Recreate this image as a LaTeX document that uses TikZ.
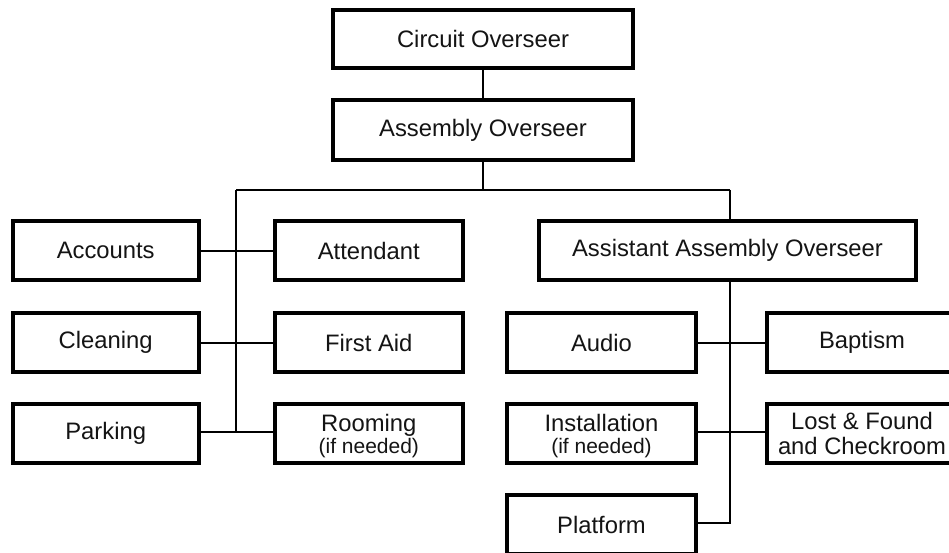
\documentclass[tikz,border=0pt]{standalone}
\usepackage{fontspec}
\setmainfont{Liberation Sans}
\begin{document}
\begin{tikzpicture}[x=1pt,y=-1pt,
  box/.style={draw=black, line width=4pt, rectangle, inner sep=0pt, align=center,
    font=\fontsize{23.8}{26}\selectfont, text=black!92},
  twoline/.style={text depth=0pt},
  link/.style={draw=black, line width=2pt}]
\useasboundingbox (0,0) rectangle (949,553);
\clip (0,0) rectangle (949,553);
\fill[white] (0,0) rectangle (949,553);
% top
\node[box, minimum width=300pt, minimum height=58pt] (co) at (483,39) {Circuit Overseer};
\node[box, minimum width=300pt, minimum height=60pt] (ao) at (483,130.5) {Assembly Overseer};
% left group
\node[box, minimum width=186pt, minimum height=59pt] (acc) at (105.7,250.5) {Accounts};
\node[box, minimum width=188pt, minimum height=59pt] (att) at (368.8,250.5) {Attendant};
\node[box, minimum width=186pt, minimum height=59pt] (cle) at (105.7,342.5) {Cleaning};
\node[box, minimum width=188pt, minimum height=59pt] (fa) at (368.8,342.5) {First Aid};
\node[box, minimum width=186pt, minimum height=59pt] (par) at (105.7,433.5) {Parking};
\node[box, twoline, minimum width=188pt, minimum height=59pt] (roo) at (368.8,433.5) {Rooming\\[-4pt]{\fontsize{21}{23}\selectfont (if needed)}};
% right group
\node[box, minimum width=377pt, minimum height=59pt] (aao) at (727.5,250.5) {Assistant Assembly Overseer};
\node[box, minimum width=189pt, minimum height=59pt] (aud) at (601.5,342.5) {Audio};
\node[box, minimum width=190pt, minimum height=59pt] (bap) at (862,342.5) {Baptism};
\node[box, twoline, minimum width=189pt, minimum height=59pt] (ins) at (601.5,433.5) {Installation\\[-4pt]{\fontsize{21}{23}\selectfont (if needed)}};
\node[box, minimum width=190pt, minimum height=59pt] (lf) at (862,433.5) {Lost \& Found\\[-1pt]and Checkroom};
\node[box, minimum width=189pt, minimum height=59pt] (pla) at (601.5,524.5) {Platform};
% connectors
\coordinate (bus) at (483,190);
\coordinate (busL) at (236,190);
\coordinate (busR) at (730,190);
\coordinate (endL) at (236,432);
\coordinate (endR) at (730,523);
\draw[link] (co) -- (ao);
\draw[link] (ao) -- (bus);
\draw[link] (busL) -- (busR);
\draw[link] (busL) -- (endL);
\draw[link] (acc) -- (att);
\draw[link] (cle) -- (fa);
\draw[link] (par.east |- endL) -- (roo.west |- endL);
\draw[link] (busR) -- (busR |- aao.north);
\draw[link] (busR |- aao.south) -- (endR) -- (pla.east |- endR);
\draw[link] (aud) -- (bap);
\draw[link] (ins.east |- endL) -- (lf.west |- endL);
\end{tikzpicture}
\end{document}
